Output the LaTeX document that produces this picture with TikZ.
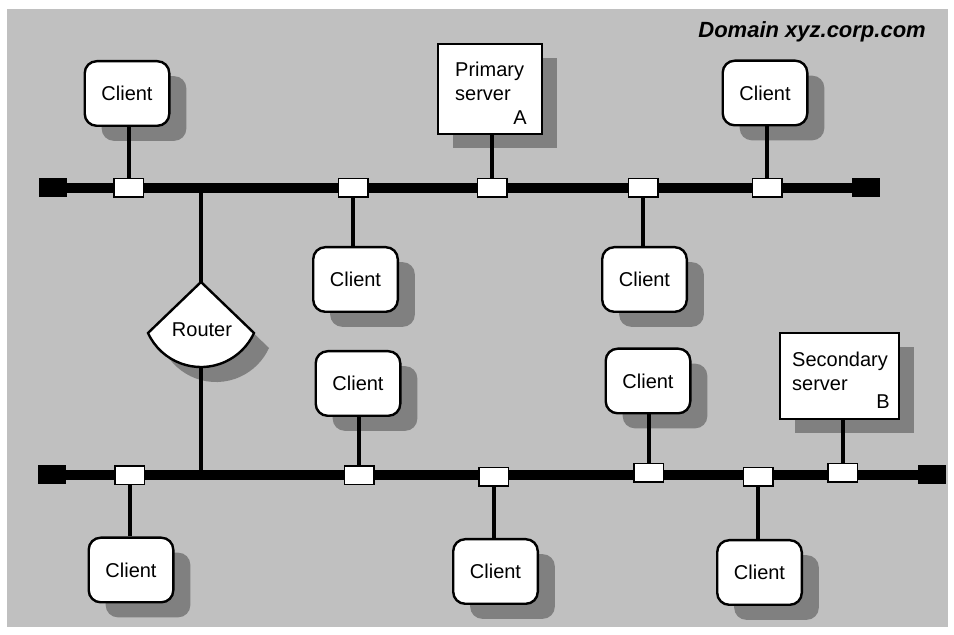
\documentclass[tikz,border=0pt]{standalone}
\usepackage{fontspec}
\setmainfont{Liberation Sans}
\definecolor{bg}{HTML}{C0C0C0}
\definecolor{sh}{HTML}{808080}
\begin{document}
\begin{tikzpicture}[x=1pt,y=1pt,
  client/.style={draw=black, line width=2.4pt, fill=white, rounded corners=12pt,
    minimum width=84.6pt, minimum height=64.6pt, inner sep=0pt,
    font=\fontsize{20}{24}\selectfont,
    preaction={fill=sh, draw=none, transform canvas={xshift=17pt, yshift=-15pt}}},
  server/.style={draw=black, line width=2.4pt, fill=white, inner sep=0pt,
    preaction={fill=sh, draw=none, transform canvas={xshift=15pt, yshift=-14pt}}},
  stxt/.style={inner sep=0pt, font=\fontsize{20}{24}\selectfont},
  conn/.style={draw=black, line width=1.5pt, fill=white,
    minimum width=29.5pt, minimum height=18.5pt, inner sep=0pt},
  endb/.style={fill=black, minimum width=28pt, minimum height=19pt, inner sep=0pt},
  bus/.style={line width=10pt},
  stem/.style={line width=4pt}
]
\useasboundingbox (0,0) rectangle (954,635);
\fill[bg] (7,8) rectangle (948,626);

% clients
\node[client] (t1) at (127,541.5) {Client};
\node[client] (t2) at (765,542) {Client};
\node[client] (t3) at (355.5,355.5) {Client};
\node[client] (t4) at (644.5,355.5) {Client};
\node[client] (b1) at (358,251.5) {Client};
\node[client] (b2) at (648,254) {Client};
\node[client] (b3) at (131,65) {Client};
\node[client] (b4) at (495.5,63.5) {Client};
\node[client] (b5) at (759.5,62.5) {Client};

% servers
\node[server, minimum width=103.6pt, minimum height=89.6pt] (ps) at (490,546) {};
\node[stxt, anchor=north west, align=left] (pst) at ([shift={(18,-19)}]ps.north west) {Primary\\server};
\node[stxt, anchor=base east] (psa) at ([shift={(-16,10)}]ps.south east) {A};
\node[server, minimum width=118.6pt, minimum height=85.6pt] (ss) at (839.5,259) {};
\node[stxt, anchor=north west, align=left] (sst) at ([shift={(13,-20)}]ss.north west) {Secondary\\server};
\node[stxt, anchor=base east] (ssb) at ([shift={(-10,11)}]ss.south east) {B};

% router
\coordinate (rtop) at (201,353);
\coordinate (rbot) at (201,268);
\path[draw=black, fill=white, line width=2.4pt, line join=miter,
  preaction={fill=sh, draw=none, transform canvas={xshift=15pt, yshift=-15pt}}]
  (rtop) -- (148,302) arc[start angle=204.6, end angle=335.4, radius=58.3] -- cycle;
\node[stxt] (router) at (202,305) {Router};

% bus end blocks
\node[endb] (l1) at (53,447) {};
\node[endb] (r1) at (866,447) {};
\node[endb] (l2) at (52,160) {};
\node[endb] (r2) at (931.5,160) {};
\draw[bus] (l1.center) -- (r1.center);
\draw[bus] (l2.center) -- (r2.center);

% router links
\draw[stem] (rtop) -- (rtop |- l1.center);
\draw[stem] (rbot) -- (rbot |- l2.center);

% connectors top
\node[conn] (ct1) at (128.5,447) {};
\node[conn] (ct3) at (353,447) {};
\node[conn] (cps) at (492,447) {};
\node[conn] (ct4) at (643,447) {};
\node[conn] (ct2) at (767,447) {};
% connectors bottom
\node[conn] (cb3) at (129.5,159.5) {};
\node[conn] (cb1) at (359,159.5) {};
\node[conn] (cb4) at (493.5,158) {};
\node[conn] (cb2) at (648.5,162) {};
\node[conn] (cb5) at (758,158) {};
\node[conn] (css) at (842.5,162) {};

% stems
\draw[stem] (ct1.north) -- (ct1.north |- t1.south);
\draw[stem] (ct2.north) -- (ct2.north |- t2.south);
\draw[stem] (cps.north) -- (cps.north |- ps.south);
\draw[stem] (ct3.south) -- (ct3.south |- t3.north);
\draw[stem] (ct4.south) -- (ct4.south |- t4.north);
\draw[stem] (cb1.north) -- (cb1.north |- b1.south);
\draw[stem] (cb2.north) -- (cb2.north |- b2.south);
\draw[stem] (css.north) -- (css.north |- ss.south);
\draw[stem] (cb3.south) -- (cb3.south |- b3.north);
\draw[stem] (cb4.south) -- (cb4.south |- b4.north);
\draw[stem] (cb5.south) -- (cb5.south |- b5.north);

% title
\node[inner sep=0pt, anchor=base east, font=\fontsize{22}{26}\selectfont\bfseries\itshape] (title) at (926,597) {Domain xyz.corp.com};
\end{tikzpicture}
\end{document}
